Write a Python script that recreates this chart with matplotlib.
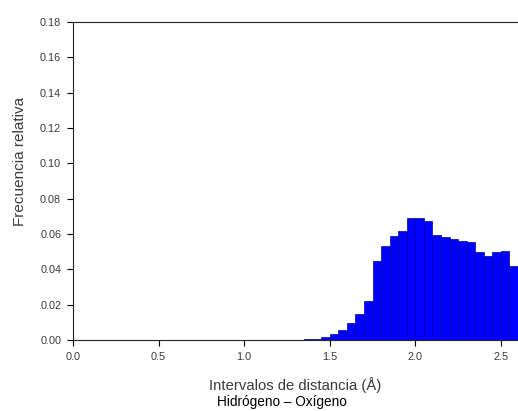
import matplotlib
matplotlib.use("Agg")
import matplotlib.pyplot as plt
import numpy as np

plt.rcParams["font.family"] = ["Liberation Sans", "DejaVu Sans"]

# histogram bins (left edge, width 0.05 A) and relative frequencies
bin_left = [1.35, 1.40, 1.45, 1.50, 1.55, 1.60, 1.65, 1.70, 1.75, 1.80, 1.85, 1.90,
            1.95, 2.00, 2.05, 2.10, 2.15, 2.20, 2.25, 2.30, 2.35, 2.40, 2.45, 2.50,
            2.55]
freq = [0.0003, 0.0008, 0.0015, 0.0034, 0.0057, 0.0096, 0.0147, 0.0223, 0.0449,
        0.0534, 0.0591, 0.0619, 0.0691, 0.0691, 0.0675, 0.0596, 0.0581, 0.0572,
        0.0562, 0.0557, 0.0496, 0.0474, 0.0496, 0.0506, 0.0421]
bin_w = 0.05

x_ticks = [0.0, 0.5, 1.0, 1.5, 2.0, 2.5]
y_ticks = [0.00, 0.02, 0.04, 0.06, 0.08, 0.10, 0.12, 0.14, 0.16, 0.18]

fig = plt.figure(figsize=(5.18, 4.11), dpi=100)
ax = fig.add_axes([0.141, 0.1727, 0.859, 0.7737])

ax.bar(bin_left, freq, width=bin_w, align="edge", color="#0000ff",
       edgecolor="#0000a0", linewidth=0.5)

ax.set_xlim(0, 2.6)
ax.set_ylim(0, 0.18)
ax.set_xticks(x_ticks)
ax.set_xticklabels(["%.1f" % v for v in x_ticks])
ax.set_yticks(y_ticks)
ax.set_yticklabels(["%.2f" % v for v in y_ticks])
ax.tick_params(labelsize=7.8, labelcolor="#3a3a3a", length=4.5, width=0.8,
               direction="out", pad=4)
ax.spines["right"].set_visible(False)
for s in ["left", "top", "bottom"]:
    ax.spines[s].set_linewidth(0.8)
    ax.spines[s].set_color("#222222")

ax.set_ylabel("Frecuencia relativa", fontsize=11, color="#3a3a3a")
ax.yaxis.set_label_coords(-0.104, 0.563)
ax.set_xlabel("Intervalos de distancia (Å)", fontsize=10.7, color="#3a3a3a", labelpad=11)
fig.text(0.545, 0.022, "Hidrógeno – Oxígeno", fontsize=9.8, ha="center", va="center")

fig.savefig("out.png", dpi=100)
